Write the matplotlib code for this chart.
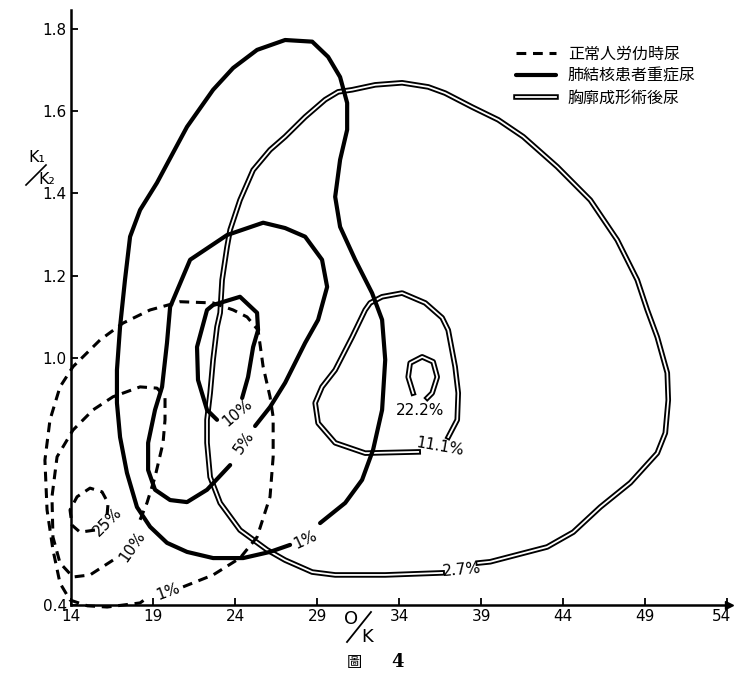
import numpy as np
import matplotlib
matplotlib.use('Agg')
import matplotlib.pyplot as plt
import matplotlib.patheffects as pe
import matplotlib.transforms as mtransforms
from matplotlib.lines import Line2D

plt.rcParams['font.family'] = ['DejaVu Sans']
CJK = ['Noto Sans CJK JP', 'DejaVu Sans']

# ---- contour data (x = O/K, y = K1/K2) ----
# normal urine after work (dashed)
norm_1 = [(20.83, 0.444), (22.66, 0.473), (24.30, 0.514), (25.34, 0.565), (26.13, 0.663),
          (26.32, 0.760), (26.32, 0.857), (26.13, 0.906), (25.71, 0.979), (25.40, 1.068),
          (24.73, 1.100), (23.88, 1.117), (22.66, 1.134), (20.65, 1.137), (18.82, 1.117),
          (17.17, 1.085), (15.77, 1.044), (14.12, 0.979), (13.33, 0.930), (12.72, 0.850),
          (12.41, 0.752), (12.54, 0.631), (12.90, 0.534), (13.33, 0.453), (13.94, 0.412),
          (15.00, 0.398), (16.20, 0.395), (18.21, 0.405), (18.63, 0.417)]
norm_10 = [(16.56, 0.509), (15.16, 0.473), (14.12, 0.468), (13.33, 0.502), (12.90, 0.565),
           (12.84, 0.663), (13.15, 0.760), (14.12, 0.825), (15.34, 0.874), (16.56, 0.906),
           (18.21, 0.930), (19.24, 0.927), (19.73, 0.906), (19.73, 0.850), (19.61, 0.794),
           (19.12, 0.711), (18.63, 0.648), (18.21, 0.607)]
norm_25 = [(15.46, 0.582), (14.55, 0.577), (14.06, 0.594), (13.94, 0.631), (14.37, 0.663),
           (15.16, 0.684), (15.89, 0.675), (16.26, 0.648), (16.20, 0.619)]

# severe pulmonary tuberculosis (thick solid)
tb_1 = [(27.35, 0.546), (26.13, 0.529), (24.49, 0.514), (22.66, 0.514), (21.07, 0.529),
        (19.85, 0.551), (18.82, 0.590), (18.02, 0.638), (17.41, 0.721), (16.99, 0.808),
        (16.80, 0.891), (16.80, 0.971), (16.99, 1.076), (17.29, 1.190), (17.60, 1.295),
        (18.21, 1.360), (19.24, 1.426), (20.22, 1.499), (21.07, 1.562), (22.66, 1.652),
        (23.88, 1.705), (25.34, 1.749), (27.05, 1.773), (28.70, 1.769), (29.67, 1.732),
        (30.40, 1.683), (30.83, 1.620), (30.83, 1.555), (30.40, 1.482), (30.10, 1.392),
        (30.40, 1.319), (31.32, 1.239), (32.35, 1.158), (32.96, 1.093), (33.15, 0.996),
        (32.96, 0.874), (32.41, 0.777), (31.74, 0.704), (30.71, 0.648), (29.18, 0.599)]
tb_5 = [(23.70, 0.740), (22.29, 0.680), (21.07, 0.650), (20.04, 0.655), (19.12, 0.680),
        (18.70, 0.728), (18.70, 0.794), (19.12, 0.874), (19.55, 0.930), (19.85, 1.037),
        (20.04, 1.124), (20.22, 1.141), (21.26, 1.239), (23.51, 1.299), (25.71, 1.329),
        (27.05, 1.316), (28.27, 1.295), (29.30, 1.239), (29.61, 1.173), (29.06, 1.093),
        (28.27, 1.037), (27.05, 0.940), (26.13, 0.881), (25.22, 0.835)]
tb_10 = [(24.43, 0.903), (24.79, 0.954), (25.10, 1.027), (25.40, 1.068), (25.34, 1.110),
         (24.30, 1.149), (22.66, 1.129), (22.29, 1.117), (21.68, 1.027), (21.74, 0.947),
         (22.29, 0.874), (22.90, 0.850)]

# after thoracoplasty (double line)
th_27 = [(38.82, 0.502), (39.55, 0.505), (43.02, 0.541), (44.61, 0.577), (46.26, 0.638),
         (48.09, 0.697), (49.73, 0.769), (50.22, 0.818), (50.40, 0.898), (50.34, 0.964),
         (49.73, 1.051), (49.12, 1.117), (48.51, 1.190), (47.29, 1.287), (45.65, 1.384),
         (43.63, 1.465), (41.56, 1.538), (40.04, 1.579), (38.45, 1.610), (36.80, 1.644),
         (35.77, 1.659), (34.18, 1.669), (32.54, 1.664), (31.13, 1.652), (30.28, 1.647),
         (29.49, 1.628), (28.27, 1.586), (27.05, 1.538), (26.13, 1.506), (25.10, 1.457),
         (24.30, 1.384), (23.70, 1.312), (23.51, 1.270), (23.21, 1.190), (23.09, 1.110),
         (22.90, 1.076), (22.66, 0.996), (22.48, 0.915), (22.29, 0.850), (22.29, 0.794),
         (22.48, 0.711), (23.09, 0.648), (24.30, 0.582), (25.95, 0.534), (27.05, 0.509),
         (28.70, 0.480), (30.10, 0.473), (33.15, 0.473), (36.62, 0.478)]
th_111 = [(36.99, 0.808), (37.54, 0.850), (37.60, 0.915), (37.41, 0.979), (36.99, 1.068),
          (36.62, 1.098), (35.59, 1.134), (34.18, 1.158), (32.96, 1.149), (32.23, 1.134),
          (31.93, 1.117), (31.13, 1.051), (30.10, 0.971), (29.30, 0.930), (28.88, 0.891),
          (29.06, 0.842), (30.10, 0.794), (31.93, 0.769), (35.16, 0.772)]
th_222 = [(34.85, 0.915), (34.55, 0.954), (34.67, 0.988), (35.40, 1.003), (36.07, 0.991),
          (36.32, 0.954), (36.01, 0.915), (35.71, 0.903)]

# contour labels: (text, x, y, rotation)
norm_labels = [('1%', 19.91, 0.432, 20), ('10%', 17.72, 0.541, 55), ('25%', 16.26, 0.602, 45)]
tb_labels = [('1%', 28.27, 0.558, 25), ('5%', 24.55, 0.796, 55), ('10%', 24.12, 0.867, 40)]
th_labels = [('2.7%', 37.84, 0.485, 5), ('11.1%', 36.50, 0.784, -10), ('22.2%', 35.28, 0.872, 0)]

legend_labels = ['正常人労仂時尿', '肺結核患者重症尿', '胸廓成形術後尿']
xticks = [14, 19, 24, 29, 34, 39, 44, 49, 54]
yticks = [0.4, 1.0, 1.2, 1.4, 1.6, 1.8]

fig = plt.figure(figsize=(7.35, 6.78), dpi=100)
ax = fig.add_axes([0.0966, 0.1077, 0.8952, 0.8776])

dash_kw = dict(color='black', lw=2.2, linestyle=(0, (3.2, 2.2)), clip_on=False)
solid_kw = dict(color='black', lw=3.0, solid_capstyle='round', solid_joinstyle='round',
                clip_on=False)
double_kw = dict(color='white', lw=1.3, clip_on=False, solid_joinstyle='round',
                 path_effects=[pe.Stroke(linewidth=4.0, foreground='black', joinstyle='round'),
                               pe.Normal()])

for c in [th_27, th_111, th_222]:
    a = np.array(c)
    ax.plot(a[:, 0], a[:, 1], **double_kw)
for c in [tb_1, tb_5, tb_10]:
    a = np.array(c)
    ax.plot(a[:, 0], a[:, 1], **solid_kw)
for c in [norm_1, norm_10, norm_25]:
    a = np.array(c)
    ax.plot(a[:, 0], a[:, 1], **dash_kw)

for t, x, y, r in norm_labels + tb_labels + th_labels:
    ax.text(x, y, t, rotation=r, ha='center', va='center', fontsize=11)

ax.set_xlim(14, 54.1)
ax.set_ylim(0.4, 1.846)
ax.set_xticks(xticks)
ax.set_xticklabels([str(v) for v in xticks])
ax.set_yticks(yticks)
ax.set_yticklabels(['%.1f' % v for v in yticks])
ax.tick_params(direction='in', length=5, width=1.3, labelsize=11, pad=3)
# the last tick label sits a little to the left of its tick in the scan
last = ax.get_xticklabels()[-1]
last.set_transform(last.get_transform() +
                   mtransforms.ScaledTranslation(-6 / 100, 0, fig.dpi_scale_trans))
for s in ['top', 'right']:
    ax.spines[s].set_visible(False)
for s in ['left', 'bottom']:
    ax.spines[s].set_linewidth(1.8)
ax.plot([1], [0], marker='>', color='black', ms=6, transform=ax.transAxes, clip_on=False)

handles = [Line2D([], [], **{k: v for k, v in dash_kw.items() if k != 'clip_on'}),
           Line2D([], [], **{k: v for k, v in solid_kw.items() if k != 'clip_on'}),
           Line2D([], [], **{k: v for k, v in double_kw.items() if k != 'clip_on'})]
ax.legend(handles, legend_labels, loc='upper left', bbox_to_anchor=(0.702, 0.933),
          bbox_transform=fig.transFigure, frameon=False, borderpad=0, borderaxespad=0,
          handlelength=2.5, handletextpad=0.75, labelspacing=0.32,
          prop={'family': CJK, 'size': 11.5})

# axis titles drawn as stacked fractions, like the scan
fig.text(37 / 735, 1 - 157 / 678, 'K₁', fontsize=11.5, ha='center', va='center')
fig.text(47 / 735, 1 - 180 / 678, 'K₂', fontsize=11.5, ha='center', va='center')
fig.add_artist(Line2D([26 / 735, 46 / 735], [1 - 185 / 678, 1 - 165 / 678],
                      color='black', lw=1.2, transform=fig.transFigure))
fig.text(351 / 735, 1 - 619 / 678, 'O', fontsize=13, ha='center', va='center')
fig.text(367 / 735, 1 - 637 / 678, 'K', fontsize=13, ha='center', va='center')
fig.add_artist(Line2D([347 / 735, 371 / 735], [1 - 642 / 678, 1 - 612 / 678],
                      color='black', lw=1.3, transform=fig.transFigure))
fig.text(354 / 735, 1 - 663 / 678, '圖', fontsize=11, ha='center', va='center', family=CJK)
fig.text(398 / 735, 1 - 662 / 678, '4', fontsize=13, ha='center', va='center',
         family='DejaVu Serif', weight='bold')

fig.savefig('out.png', dpi=100)
